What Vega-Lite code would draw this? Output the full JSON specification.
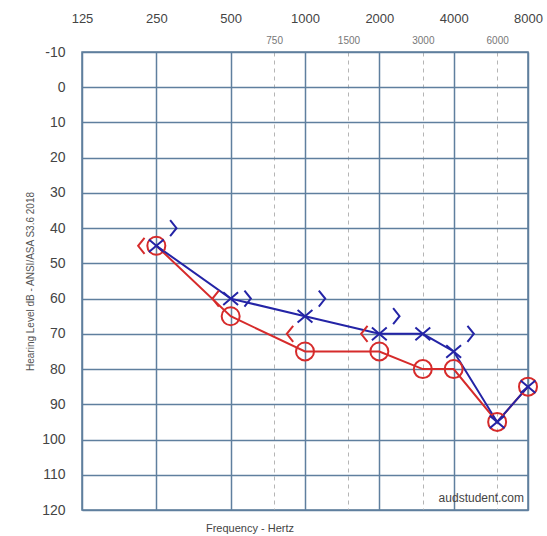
{
  "$schema": "https://vega.github.io/schema/vega-lite/v6.json",
  "width": 446,
  "height": 458,
  "autosize": "none",
  "padding": {"left": 82, "top": 52, "right": 19, "bottom": 26},
  "background": "white",
  "view": {"stroke": "#5b7b98", "strokeWidth": 1.5},
  "title": {"text": "Frequency - Hertz", "orient": "bottom", "anchor": "middle", "dx": -55, "offset": 6, "fontSize": 11, "fontWeight": "normal", "color": "#444", "font": "Liberation Sans"},
  "config": {"font": "Liberation Sans"},
  "datasets": {
    "ac": [
      {"freq": 250, "db": 45, "ear": "Right"},
      {"freq": 500, "db": 65, "ear": "Right"},
      {"freq": 1000, "db": 75, "ear": "Right"},
      {"freq": 2000, "db": 75, "ear": "Right"},
      {"freq": 3000, "db": 80, "ear": "Right"},
      {"freq": 4000, "db": 80, "ear": "Right"},
      {"freq": 6000, "db": 95, "ear": "Right"},
      {"freq": 8000, "db": 85, "ear": "Right"},
      {"freq": 250, "db": 45, "ear": "Left"},
      {"freq": 500, "db": 60, "ear": "Left"},
      {"freq": 1000, "db": 65, "ear": "Left"},
      {"freq": 2000, "db": 70, "ear": "Left"},
      {"freq": 3000, "db": 70, "ear": "Left"},
      {"freq": 4000, "db": 75, "ear": "Left"},
      {"freq": 6000, "db": 95, "ear": "Left"},
      {"freq": 8000, "db": 85, "ear": "Left"}
    ],
    "bc": [
      {"freq": 250, "db": 45, "ear": "Right"},
      {"freq": 500, "db": 60, "ear": "Right"},
      {"freq": 1000, "db": 70, "ear": "Right"},
      {"freq": 2000, "db": 70, "ear": "Right"},
      {"freq": 250, "db": 40, "ear": "Left"},
      {"freq": 500, "db": 60, "ear": "Left"},
      {"freq": 1000, "db": 60, "ear": "Left"},
      {"freq": 2000, "db": 65, "ear": "Left"},
      {"freq": 4000, "db": 70, "ear": "Left"}
    ]
  },
  "encoding": {
    "x": {
      "field": "freq", "type": "quantitative",
      "scale": {"type": "log", "domain": [125, 8000], "nice": false},
      "axis": {
        "orient": "top", "title": null,
        "values": [125, 250, 500, 750, 1000, 1500, 2000, 3000, 4000, 6000, 8000],
        "format": "d", "ticks": false, "domain": false,
        "grid": true,
        "gridColor": {"condition": {"test": "indexof([750,1500,3000,6000], datum.value) >= 0", "value": "#b5b5b5"}, "value": "#5f7f9e"},
        "gridDash": {"condition": {"test": "indexof([750,1500,3000,6000], datum.value) >= 0", "value": [4, 4]}, "value": []},
        "gridWidth": {"condition": {"test": "indexof([750,1500,3000,6000], datum.value) >= 0", "value": 1}, "value": 1.5},
        "gridOpacity": 1,
        "labelFontSize": {"condition": {"test": "indexof([750,1500,3000,6000], datum.value) >= 0", "value": 10}, "value": 13},
        "labelColor": {"condition": {"test": "indexof([750,1500,3000,6000], datum.value) >= 0", "value": "#777"}, "value": "#444"},
        "labelPadding": {"condition": {"test": "indexof([750,1500,3000,6000], datum.value) >= 0", "value": 7}, "value": 27},
        "labelFlush": false, "labelOverlap": false
      }
    },
    "y": {
      "field": "db", "type": "quantitative",
      "scale": {"domain": [-10, 120], "reverse": true, "nice": false, "zero": false},
      "axis": {
        "title": "Hearing Level dB - ANSI/ASA S3.6 2018",
        "titleFontSize": 10, "titleFontWeight": "normal", "titleColor": "#555", "titlePadding": 6,
        "values": [-10, 0, 10, 20, 30, 40, 50, 60, 70, 80, 90, 100, 110, 120],
        "labelExpr": "'' + datum.value",
        "ticks": false, "domain": false,
        "grid": true, "gridColor": "#5f7f9e", "gridWidth": 1.5, "gridOpacity": 1,
        "labelFontSize": 14, "labelColor": "#444", "labelPadding": 17, "labelFlush": false
      }
    }
  },
  "layer": [
    {
      "data": {"name": "ac"},
      "transform": [{"filter": "datum.ear == 'Right'"}],
      "mark": {"type": "line", "color": "#d62b2b", "strokeWidth": 2}
    },
    {
      "data": {"name": "ac"},
      "transform": [{"filter": "datum.ear == 'Left'"}],
      "mark": {"type": "line", "color": "#2424a6", "strokeWidth": 2}
    },
    {
      "data": {"name": "ac"},
      "transform": [{"filter": "datum.ear == 'Right'"}],
      "mark": {"type": "point", "shape": "circle", "filled": false, "size": 324, "stroke": "#d62b2b", "strokeWidth": 2, "opacity": 1}
    },
    {
      "data": {"name": "ac"},
      "transform": [{"filter": "datum.ear == 'Left'"}],
      "mark": {"type": "point", "shape": "M-1,-0.85L1,0.85M-1,0.85L1,-0.85", "filled": false, "size": 220, "stroke": "#2424a6", "strokeWidth": 2, "opacity": 1}
    },
    {
      "data": {"name": "bc"},
      "transform": [{"filter": "datum.ear == 'Right'"}],
      "mark": {"type": "point", "shape": "M0.4,-1L-0.4,0L0.4,1", "filled": false, "size": 256, "stroke": "#d62b2b", "strokeWidth": 2, "opacity": 1, "xOffset": -15}
    },
    {
      "data": {"name": "bc"},
      "transform": [{"filter": "datum.ear == 'Left'"}],
      "mark": {"type": "point", "shape": "M-0.4,-1L0.4,0L-0.4,1", "filled": false, "size": 256, "stroke": "#2424a6", "strokeWidth": 2, "opacity": 1, "xOffset": 17}
    },
    {
      "data": {"name": "ac"},
      "transform": [{"filter": "datum.ear == 'Left' && datum.freq == 8000"}],
      "mark": {"type": "text", "align": "right", "baseline": "middle", "fontSize": 12, "color": "#444", "dx": -4, "yOffset": 111},
      "encoding": {
        "text": {"value": "audstudent.com"}
      }
    }
  ]
}
